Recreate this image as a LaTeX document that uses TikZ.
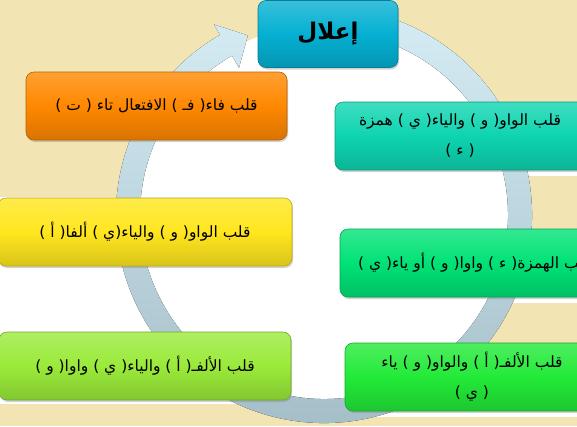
\documentclass[tikz,border=0pt]{standalone}
\usepackage{fontspec}
\newfontfamily\arabicfont[Script=Arabic]{DejaVu Sans}
\TeXXeTstate=1
\usetikzlibrary{calc,shadows}
\definecolor{beige}{HTML}{F3E4B4}
\definecolor{ringtop}{HTML}{D4EBF3}
\definecolor{ringbot}{HTML}{A2BCC6}
\definecolor{cyanC}{HTML}{05B0D2}
\definecolor{orangeC}{HTML}{FF8800}
\definecolor{tealC}{HTML}{0ED4B0}
\definecolor{yellowC}{HTML}{FFE61E}
\definecolor{greenC}{HTML}{00E276}
\definecolor{limeC}{HTML}{9AEA3A}
\definecolor{brightC}{HTML}{22EA38}
\tikzset{
  gbox/.style={rounded corners=8pt, draw=#1!72!black, line width=0.6pt,
    top color=#1!80!white, bottom color=#1!85!black, middle color=#1,
    drop shadow={opacity=0.35, shadow xshift=1pt, shadow yshift=-2pt},
    inner sep=0pt, text=black, align=center,
    font=\arabicfont\fontsize{15.5}{30}\selectfont},
  ringfill/.style={top color=ringtop, bottom color=ringbot, draw=none},
}
\begin{document}
\begin{tikzpicture}[x=1pt,y=-1pt]
\useasboundingbox (0,0) rectangle (577,426);
\clip (0,0) rectangle (577,426);
\fill[beige] (0,0) rectangle (577,426);
% white areas
\coordinate (c) at (324,215);
\fill[white] (c) circle[radius=190];
\fill[white] (0,197) rectangle (324,404);
\fill[white] (335,168) rectangle (577,176);
\fill[white] (340,295) rectangle (577,303);
\fill[white] (345,409) rectangle (577,417);
% circular arrow
\fill[ringfill] ($(c)+(-70:208)$) arc[start angle=-70, end angle=240, radius=208]
  -- ($(c)+(240:220)$) -- ($(c)+(247:195)$) -- ($(c)+(240:170)$)
  -- ($(c)+(240:184)$) arc[start angle=240, end angle=-70, radius=184] -- cycle;
% boxes
\node[gbox=cyanC, minimum width=140pt, minimum height=67pt,
  font=\arabicfont\bfseries\fontsize{23}{26}\selectfont] (top) at (328,34) {\beginR إعلال\endR};
\node[gbox=orangeC, minimum width=261pt, minimum height=68pt] (b1) at (156.5,106)
  {\beginR قلب فاء( فـ ) الافتعال تاء ( ت )\endR};
\node[gbox=tealC, minimum width=250pt, minimum height=68pt] (b2) at (460,136)
  {\beginR قلب الواو( و ) والياء( ي ) همزة\endR\\\beginR ( ء )\endR};
\node[gbox=yellowC, minimum width=294pt, minimum height=68pt] (b3) at (145,232)
  {\beginR قلب الواو( و ) والياء(ي ) ألفا( أ )\endR};
\node[gbox=greenC, minimum width=270pt, minimum height=68pt] (b4) at (475,263)
  {\beginR قلب الهمزة( ء ) واوا( و ) أو ياء( ي )\endR};
\node[gbox=limeC, minimum width=292pt, minimum height=68pt] (b5) at (145,366)
  {\beginR قلب الألفـ( أ ) والياء( ي ) واوا( و )\endR};
\node[gbox=brightC, minimum width=254pt, minimum height=68pt] (b6) at (472,377)
  {\beginR قلب الألفـ( أ ) والواو( و ) ياء\endR\\\beginR ( ي )\endR};
\end{tikzpicture}
\end{document}
